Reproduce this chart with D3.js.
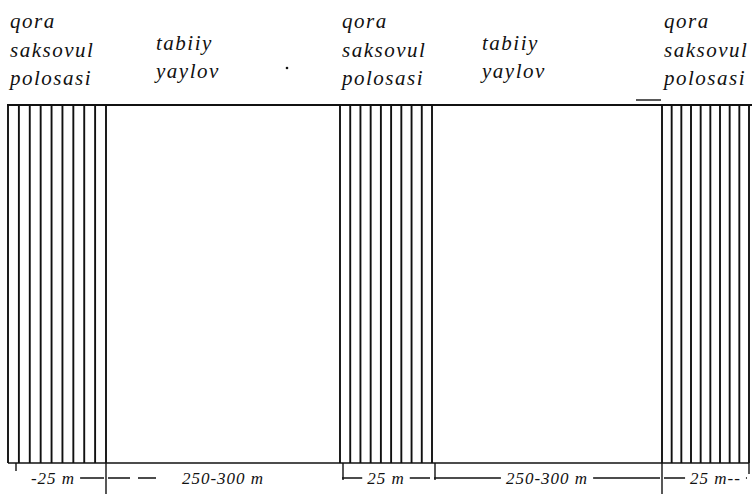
<!DOCTYPE html>
<html>
<head>
<meta charset="utf-8">
<script src="https://cdn.jsdelivr.net/npm/d3@7"></script>
<style>
  body { margin: 0; background: #fff; }
</style>
</head>
<body>
<script>
// zones from left to right
const zoneKinds = ["strip", "pasture", "strip", "pasture", "strip"];
const zoneLabels = [
    ["qora", "saksovul", "polosasi"],
    ["tabiiy", "yaylov"],
    ["qora", "saksovul", "polosasi"],
    ["tabiiy", "yaylov"],
    ["qora", "saksovul", "polosasi"]
];
const widthLabels = ["-25 m", "250-300 m", "25 m", "250-300 m", "25 m--"];
const hatchCount = 10;

const width = 753;
const height = 494;
const planTop = 105;
const planBottom = 463;
const dimY = 478;
const serif = "'Liberation Serif', 'DejaVu Serif', serif";

// zone index -> px (drawing is not to scale)
const x = d3.scaleLinear()
    .domain([0, 1, 2, 3, 4, 5])
    .range([8, 106, 340, 432, 662, 749]);

const svg = d3.select("body").append("svg")
    .attr("width", width)
    .attr("height", height)
    .attr("viewBox", `0 0 ${width} ${height}`);

svg.append("rect").attr("width", width).attr("height", height).attr("fill", "#fff");

const zones = zoneKinds.map((k, i) => ({
    kind: k, lines: zoneLabels[i], dim: widthLabels[i], x0: x(i), x1: x(i + 1)
}));

// top and bottom edges
svg.append("line")
    .attr("x1", 7).attr("x2", 752).attr("y1", planTop).attr("y2", planTop)
    .attr("stroke", "#111").attr("stroke-width", 2.2);
svg.append("line")
    .attr("x1", x(0)).attr("x2", x(5)).attr("y1", planBottom).attr("y2", planBottom)
    .attr("stroke", "#111").attr("stroke-width", 1.6);

// hatching of the saxaul strips
zones.filter(z => z.kind === "strip").forEach(z => {
    const hx = d3.scaleLinear().domain([0, hatchCount - 1]).range([z.x0, z.x1]);
    svg.append("g")
        .selectAll("line")
        .data(d3.range(hatchCount))
        .join("line")
        .attr("x1", d => hx(d)).attr("x2", d => hx(d))
        .attr("y1", planTop).attr("y2", planBottom)
        .attr("stroke", "#111").attr("stroke-width", 1.9);
});

// labels above
zones.forEach(z => {
    const isStrip = z.kind === "strip";
    const base = isStrip ? 28 : 50;
    const gap = isStrip ? 28.5 : 28;
    svg.append("g")
        .selectAll("text")
        .data(z.lines)
        .join("text")
        .attr("x", z.x0 + (isStrip ? 2 : 50))
        .attr("y", (d, i) => base + i * gap)
        .attr("fill", "#111")
        .style("font-family", serif)
        .style("font-style", "italic")
        .style("font-size", "21px")
        .style("letter-spacing", "1.5px")
        .text(d => d);
});

// boundary ticks below the plan
const tickEnds = [471, 494, 480, 480, 494, 474];
const tickShift = [8, 0, 3, 3, 0, 0];
svg.append("g")
    .selectAll("line")
    .data(d3.range(6))
    .join("line")
    .attr("x1", d => x(d) + tickShift[d])
    .attr("x2", d => x(d) + tickShift[d])
    .attr("y1", planBottom).attr("y2", d => tickEnds[d])
    .attr("stroke", "#111").attr("stroke-width", 1.4);

// dimension line with labels
const dim = svg.append("g");
zones.forEach((z, i) => {
    dim.append("line")
        .attr("x1", z.x0 + (i === 0 ? 30 : 2)).attr("x2", z.x1 - 2)
        .attr("y1", dimY).attr("y2", dimY)
        .attr("stroke", "#111").attr("stroke-width", 1.3)
        .attr("stroke-dasharray", i === 1 ? "22,8,18,400" : null);
    const t = dim.append("text")
        .attr("x", (z.x0 + z.x1) / 2 + (i === 0 ? -4 : i === 4 ? 10 : 0))
        .attr("y", dimY + 6)
        .attr("text-anchor", "middle")
        .attr("fill", "#111")
        .style("font-family", serif)
        .style("font-style", "italic")
        .style("font-size", "17px")
        .style("letter-spacing", "1px")
        .text(z.dim);
    const b = t.node().getBBox();
    dim.insert("rect", () => t.node())
        .attr("x", b.x - 5).attr("y", b.y + 2)
        .attr("width", b.width + 10).attr("height", b.height - 4)
        .attr("fill", "#fff");
});

// small marks seen on the original
svg.append("line")
    .attr("x1", 636).attr("x2", 661).attr("y1", 100).attr("y2", 100)
    .attr("stroke", "#222").attr("stroke-width", 1.5);
svg.append("circle").attr("cx", 287).attr("cy", 68).attr("r", 1.3).attr("fill", "#111");
</script>
</body>
</html>
